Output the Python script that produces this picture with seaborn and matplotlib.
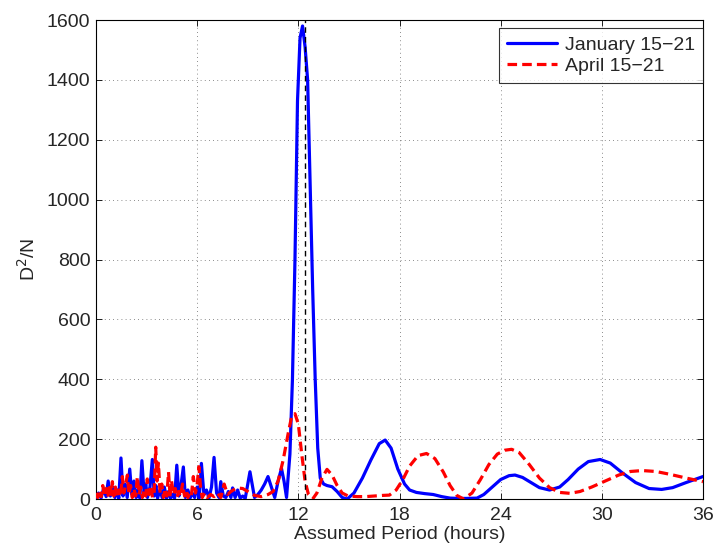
import matplotlib
matplotlib.use("Agg")
import matplotlib.pyplot as plt
import seaborn as sns
import pandas as pd

# ---- data ----
jan_period = [0.0, 0.15, 0.3, 0.45, 0.6, 0.72, 0.85, 1.0, 1.12, 1.25, 1.35, 1.48, 1.6, 1.72, 1.85,
              2.0, 2.12, 2.25, 2.38, 2.5, 2.6, 2.72, 2.85, 2.95, 3.05, 3.2, 3.34, 3.45, 3.55, 3.65,
              3.8, 3.92, 4.05, 4.18, 4.3, 4.42, 4.55, 4.66, 4.79, 4.92, 5.05, 5.18, 5.3, 5.45, 5.58,
              5.7, 5.85, 6.0, 6.12, 6.25, 6.4, 6.55, 6.7, 6.85, 7.0, 7.15, 7.3, 7.4, 7.55, 7.7,
              7.85, 8.0, 8.1, 8.25, 8.4, 8.55, 8.7, 8.85, 9.13, 9.4, 9.6, 9.8, 10.0, 10.2, 10.4,
              10.6, 10.8, 11.0, 11.15, 11.3, 11.5, 11.65, 11.8, 11.95, 12.1, 12.25, 12.4, 12.55,
              12.7, 12.85, 13.0, 13.15, 13.3, 13.5, 13.7, 14.0, 14.3, 14.6, 14.9, 15.3, 15.8,
              16.3, 16.8, 17.15, 17.5, 17.9, 18.3, 18.6, 19.0, 19.5, 20.0, 20.5, 21.0, 21.5,
              22.0, 22.6, 23.0, 23.5, 24.0, 24.5, 24.85, 25.3, 25.8, 26.3, 26.9, 27.5, 28.0,
              28.6, 29.2, 29.9, 30.5, 31.2, 32.0, 32.8, 33.55, 34.2, 35.0, 36.0]
jan_d2n = [5, 20, 3, 35, 8, 60, 10, 40, 5, 30, 2, 137, 10, 50, 5,
           100, 15, 60, 5, 30, 3, 128, 20, 50, 5, 40, 132, 10, 45, 3,
           30, 5, 40, 3, 25, 2, 15, 3, 113, 10, 50, 107, 5, 30, 3,
           20, 5, 40, 3, 119, 15, 30, 3, 40, 139, 20, 5, 58, 10, 5,
           25, 5, 37, 5, 30, 3, 10, 2, 91, 5, 15, 30, 50, 75, 40,
           5, 60, 102, 60, 5, 150, 400, 800, 1330, 1540, 1580, 1510, 1400,
           1050, 700, 400, 170, 70, 50, 45, 41, 25, 5, 0, 20, 70,
           130, 185, 197, 170, 100, 50, 30, 22, 18, 15, 8, 3, 2,
           2, 3, 15, 40, 65, 78, 80, 72, 55, 38, 30, 40, 65,
           100, 125, 132, 120, 88, 55, 35, 32, 38, 55, 75]

apr_period = [0.0, 0.1, 0.2, 0.3, 0.4, 0.5, 0.6, 0.7, 0.8, 0.9, 0.97, 1.05, 1.15, 1.25, 1.35,
              1.45, 1.56, 1.65, 1.76, 1.86, 1.95, 2.05, 2.15, 2.25, 2.35, 2.45, 2.55, 2.65, 2.75,
              2.85, 2.95, 3.04, 3.15, 3.25, 3.35, 3.45, 3.54, 3.62, 3.7, 3.8, 3.9, 4.0, 4.1, 4.2,
              4.3, 4.4, 4.47, 4.6, 4.7, 4.8, 4.9, 5.0, 5.13, 5.25, 5.35, 5.45, 5.55, 5.65, 5.77,
              5.9, 6.0, 6.1, 6.2, 6.3, 6.45, 6.6, 6.8, 7.0, 7.2, 7.4, 7.6, 7.8, 8.0, 8.35, 8.7,
              9.0, 9.4, 9.8, 10.2, 10.5, 10.8, 11.1, 11.4, 11.6, 11.8, 12.0, 12.2, 12.4, 12.6,
              12.85, 13.1, 13.4, 13.7, 14.0, 14.3, 14.6, 14.95, 15.5, 16.0, 16.5, 17.0, 17.4,
              17.8, 18.2, 18.6, 19.1, 19.6, 20.1, 20.6, 21.0, 21.4, 21.8, 22.3, 22.8, 23.3,
              23.8, 24.25, 24.65, 25.1, 25.7, 26.3, 26.9, 27.5, 28.1, 28.7, 29.4, 30.2, 31.0,
              31.7, 32.4, 33.2, 34.0, 35.0, 36.0]
apr_d2n = [20, 5, 30, 8, 45, 10, 35, 5, 50, 15, 58, 10, 40, 5, 30,
           8, 75, 20, 50, 80, 15, 45, 5, 35, 10, 75, 15, 40, 5,
           30, 10, 67, 15, 40, 5, 20, 173, 60, 120, 20, 50, 5, 35, 10,
           90, 5, 63, 15, 35, 5, 25, 8, 50, 10, 30, 5, 20, 10, 75,
           20, 50, 108, 40, 5, 20, 5, 15, 8, 20, 5, 50, 15, 25, 37, 35,
           25, 12, 8, 15, 25, 60, 130, 220, 275, 285, 250, 150, 60, 15,
           0, 20, 70, 99, 80, 45, 20, 10, 8, 8, 10, 12, 13,
           30, 65, 110, 145, 152, 135, 90, 45, 12, 0, 20, 65, 115,
           150, 163, 166, 155, 115, 70, 38, 22, 19, 25, 40, 60, 80,
           92, 95, 92, 83, 70, 58]

series_names = ["January 15\u221221", "April 15\u221221"]
m2_period = 12.38
x_ticks = [0, 6, 12, 18, 24, 30, 36]
y_ticks = [0, 200, 400, 600, 800, 1000, 1200, 1400, 1600]

df = pd.concat([
    pd.DataFrame({"period": jan_period, "d2n": jan_d2n, "series": series_names[0]}),
    pd.DataFrame({"period": apr_period, "d2n": apr_d2n, "series": series_names[1]}),
], ignore_index=True)

sns.set_style("ticks")
plt.rcParams["font.family"] = ["Liberation Sans", "DejaVu Sans"]
plt.rcParams["xtick.direction"] = "in"
plt.rcParams["ytick.direction"] = "in"

fig = plt.figure(figsize=(7.15, 5.48), dpi=100)
ax = fig.add_axes([0.1343, 0.0894, 0.8489, 0.8741])

sns.lineplot(data=df, x="period", y="d2n", hue="series", style="series",
             palette={series_names[0]: "#0000ff", series_names[1]: "#ff0000"},
             dashes={series_names[0]: "", series_names[1]: (3, 1.6)},
             linewidth=2.3, sort=False, estimator=None, ax=ax, zorder=3)

ax.axvline(m2_period, color="black", linestyle=(0, (4, 3)), linewidth=1.0, zorder=4)

ax.set_xlim(0, 36)
ax.set_ylim(0, 1600)
ax.set_xticks(x_ticks)
ax.set_yticks(y_ticks)
ax.tick_params(axis="both", labelsize=14, length=4, width=0.6, top=True, right=True,
               color="black")
ax.tick_params(axis="x", pad=6)
ax.tick_params(axis="y", pad=4)
ax.grid(True, linestyle=(0, (1, 4)), color="black", linewidth=0.6, alpha=0.6)
for s in ax.spines.values():
    s.set_visible(True)
    s.set_linewidth(0.8)
    s.set_color("black")

ax.set_xlabel("Assumed Period (hours)", fontsize=14, labelpad=1)
ax.set_ylabel("D$^2$/N", fontsize=14, labelpad=6)

handles, labels = ax.get_legend_handles_labels()
leg = ax.legend(handles, labels, loc="upper right", bbox_to_anchor=(1.0, 0.983),
                borderaxespad=0, fontsize=14, frameon=True, fancybox=False,
                edgecolor="black", handlelength=2.6, handletextpad=0.4,
                borderpad=0.4, labelspacing=0.2)
leg.get_frame().set_linewidth(0.8)
for line in leg.get_lines():
    line.set_linewidth(2.3)

fig.savefig("out.png", dpi=100)
